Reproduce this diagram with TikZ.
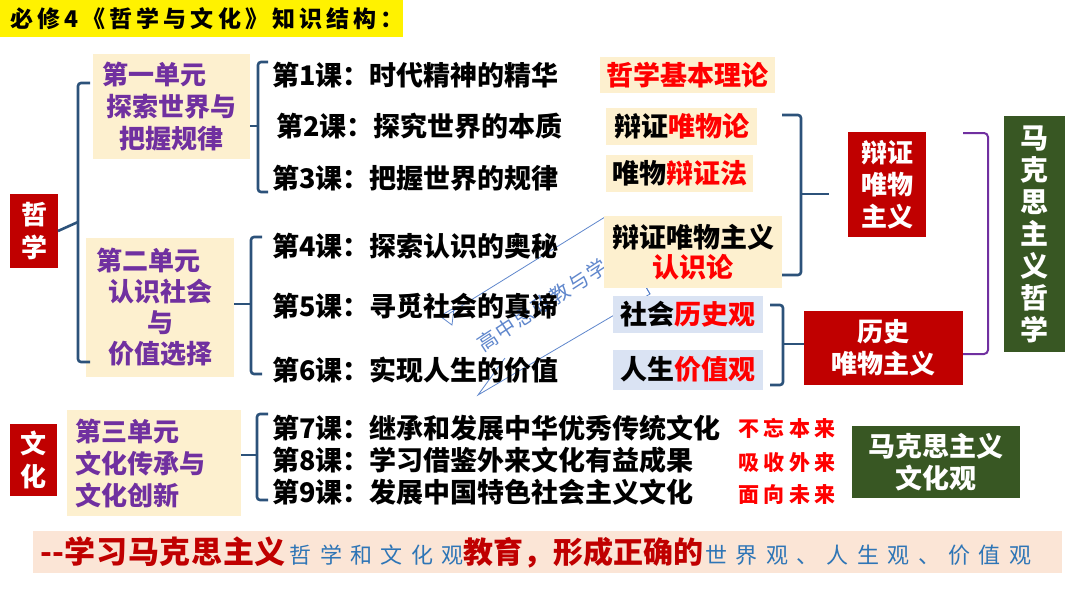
\documentclass[tikz,border=0pt]{standalone}
\usepackage{fontspec}
\setmainfont{Noto Sans CJK SC}
\newfontfamily\lsT[LetterSpace=18]{Noto Sans CJK SC}
\newfontfamily\lsR[LetterSpace=22]{Noto Sans CJK SC}
\newfontfamily\lsB[LetterSpace=38]{Noto Sans CJK SC}
\newfontfamily\lsM[LetterSpace=2]{Noto Sans CJK SC}
\newfontfamily\lsW[LetterSpace=8]{Noto Sans CJK SC}
\newcommand\fsz[2]{\fontsize{#1}{#2}\selectfont}
\definecolor{boxred}{RGB}{192,0,0}
\definecolor{tred}{RGB}{255,0,0}
\definecolor{tpurple}{RGB}{112,48,160}
\definecolor{mkgreen}{RGB}{56,87,35}
\definecolor{brkblue}{RGB}{44,82,122}
\definecolor{beige}{RGB}{253,240,207}
\definecolor{lblue}{RGB}{218,227,243}
\definecolor{band}{RGB}{251,229,214}
\definecolor{tblue}{RGB}{46,117,182}
\definecolor{wmblue}{RGB}{68,114,196}
\begin{document}
\begin{tikzpicture}[x=1pt,y=-1pt,
  every node/.style={inner sep=0pt,outer sep=0pt},
  redbox/.style={fill=boxred,text=white,align=center},
  unitbox/.style={fill=beige,text=tpurple,align=center,font=\fsz{26}{32}\bfseries},
  lesson/.style={anchor=west,font=\fsz{27}{30}\bfseries},
  lbl/.style={align=center,font=\fsz{27}{30}\bfseries},
  calli/.style={anchor=west,text=tred,font=\lsR\fsz{21}{24}\bfseries},
  brk/.style={draw=brkblue,line width=2.6pt,rounded corners=3pt},
  pbrk/.style={draw=tpurple,line width=2pt,rounded corners=4pt}]
\useasboundingbox (0,0) rectangle (1080,608);
\fill[white] (0,0) rectangle (1080,608);

% title
\node[fill=yellow,minimum width=403,minimum height=37,anchor=north west] (title) at (0,0) {};
\node[anchor=west,font=\lsT\fsz{23}{26}\bfseries] (titletxt) at (10,19) {必修4《哲学与文化》知识结构：};

% watermark
\begin{scope}[draw=wmblue,line width=0.8pt,opacity=0.85]
\coordinate (w1) at (442,318);
\coordinate (w2) at (605,217);
\coordinate (w3) at (650,294);
\coordinate (w4) at (635,268);
\coordinate (w5) at (478,395);
\coordinate (w6) at (505,358);
\draw (w1) -- (w2) -- (w3) -- (w5) -- (w6);
\draw (w4) -- (w3);
\draw (440,316) -- (454,308) -- (452,325) -- cycle;
\end{scope}
\node[text=wmblue,opacity=0.85,rotate=33,font=\lsW\fsz{20}{22}] (wm) at (542,305) {高中思政教与学};

% left roots
\node[redbox,minimum width=48,minimum height=74,font=\fsz{26}{33}\bfseries] (zx) at (34,231) {哲\\学};
\node[redbox,minimum width=47,minimum height=72,font=\fsz{26}{33}\bfseries] (wh) at (33.5,460) {文\\化};

% units
\node[unitbox,minimum width=157,minimum height=105] (u1) at (171.5,106.5) {第一单元\hspace*{34pt}\\探索世界与\\把握规律};
\node[unitbox,minimum width=148,minimum height=139,font=\fsz{26}{31}\bfseries] (u2) at (160,307.5) {第二单元\hspace*{24pt}\\认识社会\\与\\价值选择};
\node[unitbox,minimum height=106,text width=158,inner xsep=8pt,align=left] (u3) at (154,463) {第三单元\\文化传承与\\文化创新};

% bracket philosophy -> units
\draw[brk] (90,83) -- (78,83) -- (78,362) -- (90,362);
\draw[brk] (zx.east) -- (78,222);

% lessons
\node[lesson] (l1) at (272,75) {第1课：时代精神的精华};
\node[lesson] (l2) at (276,126) {第2课：探究世界的本质};
\node[lesson] (l3) at (272,178) {第3课：把握世界的规律};
\node[lesson] (l4) at (272,246) {第4课：探索认识的奥秘};
\node[lesson] (l5) at (272,306) {第5课：寻觅社会的真谛};
\node[lesson] (l6) at (272,370) {第6课：实现人生的价值};
\node[lesson] (l7) at (272,428) {第7课：继承和发展中华优秀传统文化};
\node[lesson] (l8) at (272,460) {第8课：学习借鉴外来文化有益成果};
\node[lesson] (l9) at (272,492) {第9课：发展中国特色社会主义文化};

% brackets units -> lessons
\draw[brk] (268,62) -- (258,62) -- (258,192) -- (268,192);
\draw[brk] (u1.east |- 0,126) -- (258,126);
\draw[brk] (262,237) -- (251,237) -- (251,374) -- (262,374);
\draw[brk] (u2.east |- 0,304) -- (251,304);
\draw[brk] (268,414) -- (257,414) -- (257,500) -- (268,500);
\draw[brk] (u3.east |- 0,455) -- (257,455);

% labels
\node[lbl,fill=beige,minimum width=175,minimum height=36,text=tred] (a1) at (687.5,75) {哲学基本理论};
\node[lbl,fill=beige,minimum width=151,minimum height=37] (a2) at (681.5,126.5) {辩证\textcolor{tred}{唯物论}};
\node[lbl,fill=beige,minimum width=147,minimum height=37] (a3) at (679.5,173.5) {唯物\textcolor{tred}{辩证法}};
\node[lbl,fill=beige,minimum width=178,minimum height=72] (a4) at (693,252) {辩证唯物主义\\\textcolor{tred}{认识论}};
\node[lbl,fill=lblue,minimum width=150,minimum height=37] (a5) at (687.5,314) {社会\textcolor{tred}{历史观}};
\node[lbl,fill=lblue,minimum width=150,minimum height=40] (a6) at (687.5,369.5) {人生\textcolor{tred}{价值观}};

% calligraphy
\node[calli] (c1) at (738,428) {不忘本来};
\node[calli] (c2) at (738,463) {吸收外来};
\node[calli] (c3) at (738,495) {面向未来};

% right side
\node[redbox,minimum width=78,minimum height=105,font=\fsz{26}{32}\bfseries] (dw) at (887,184.5) {辩证\\唯物\\主义};
\node[redbox,minimum width=159,minimum height=74,font=\fsz{26}{32}\bfseries] (ls) at (883.5,348) {历史\\唯物主义};
\node[fill=mkgreen,text=white,align=center,minimum width=61,minimum height=236,font=\fsz{28}{32}\bfseries] (mk) at (1034.5,234) {马\\克\\思\\主\\义\\哲\\学};
\node[fill=mkgreen,text=white,align=center,minimum width=168,minimum height=72,font=\fsz{27}{32}\bfseries] (mw) at (936,462) {马克思主义\\文化观};

\coordinate (r1m) at (829,194);
\draw[brk] (782,115) -- (801,115) -- (801,275) -- (a4.east |- 0,275);
\draw[brk] (801,194) -- (r1m);
\draw[brk] (770,305) -- (783,305) -- (783,385) -- (770,385);
\draw[brk] (783,344) -- (ls.west |- 0,344);
\coordinate (pt) at (963,133);
\draw[pbrk] (pt) -- (988,133) -- (988,354) -- (ls.east |- 0,354);

% bottom band
\node[fill=band,minimum width=1029,minimum height=42] (bb) at (547.5,552) {};
\node[anchor=west] (bt) at (40,552) {%
{\lsM\fsz{31}{34}\bfseries\color{boxred}--学习马克思主义}\hspace{4pt}%
{\lsB\fsz{22}{24}\color{tblue}哲学和文化观}%
{\fsz{30}{34}\bfseries\color{boxred}教育，形成正确的}\hspace{2pt}%
{\lsB\fsz{22}{24}\color{tblue}世界观、人生观、价值观}};
\end{tikzpicture}
\end{document}
